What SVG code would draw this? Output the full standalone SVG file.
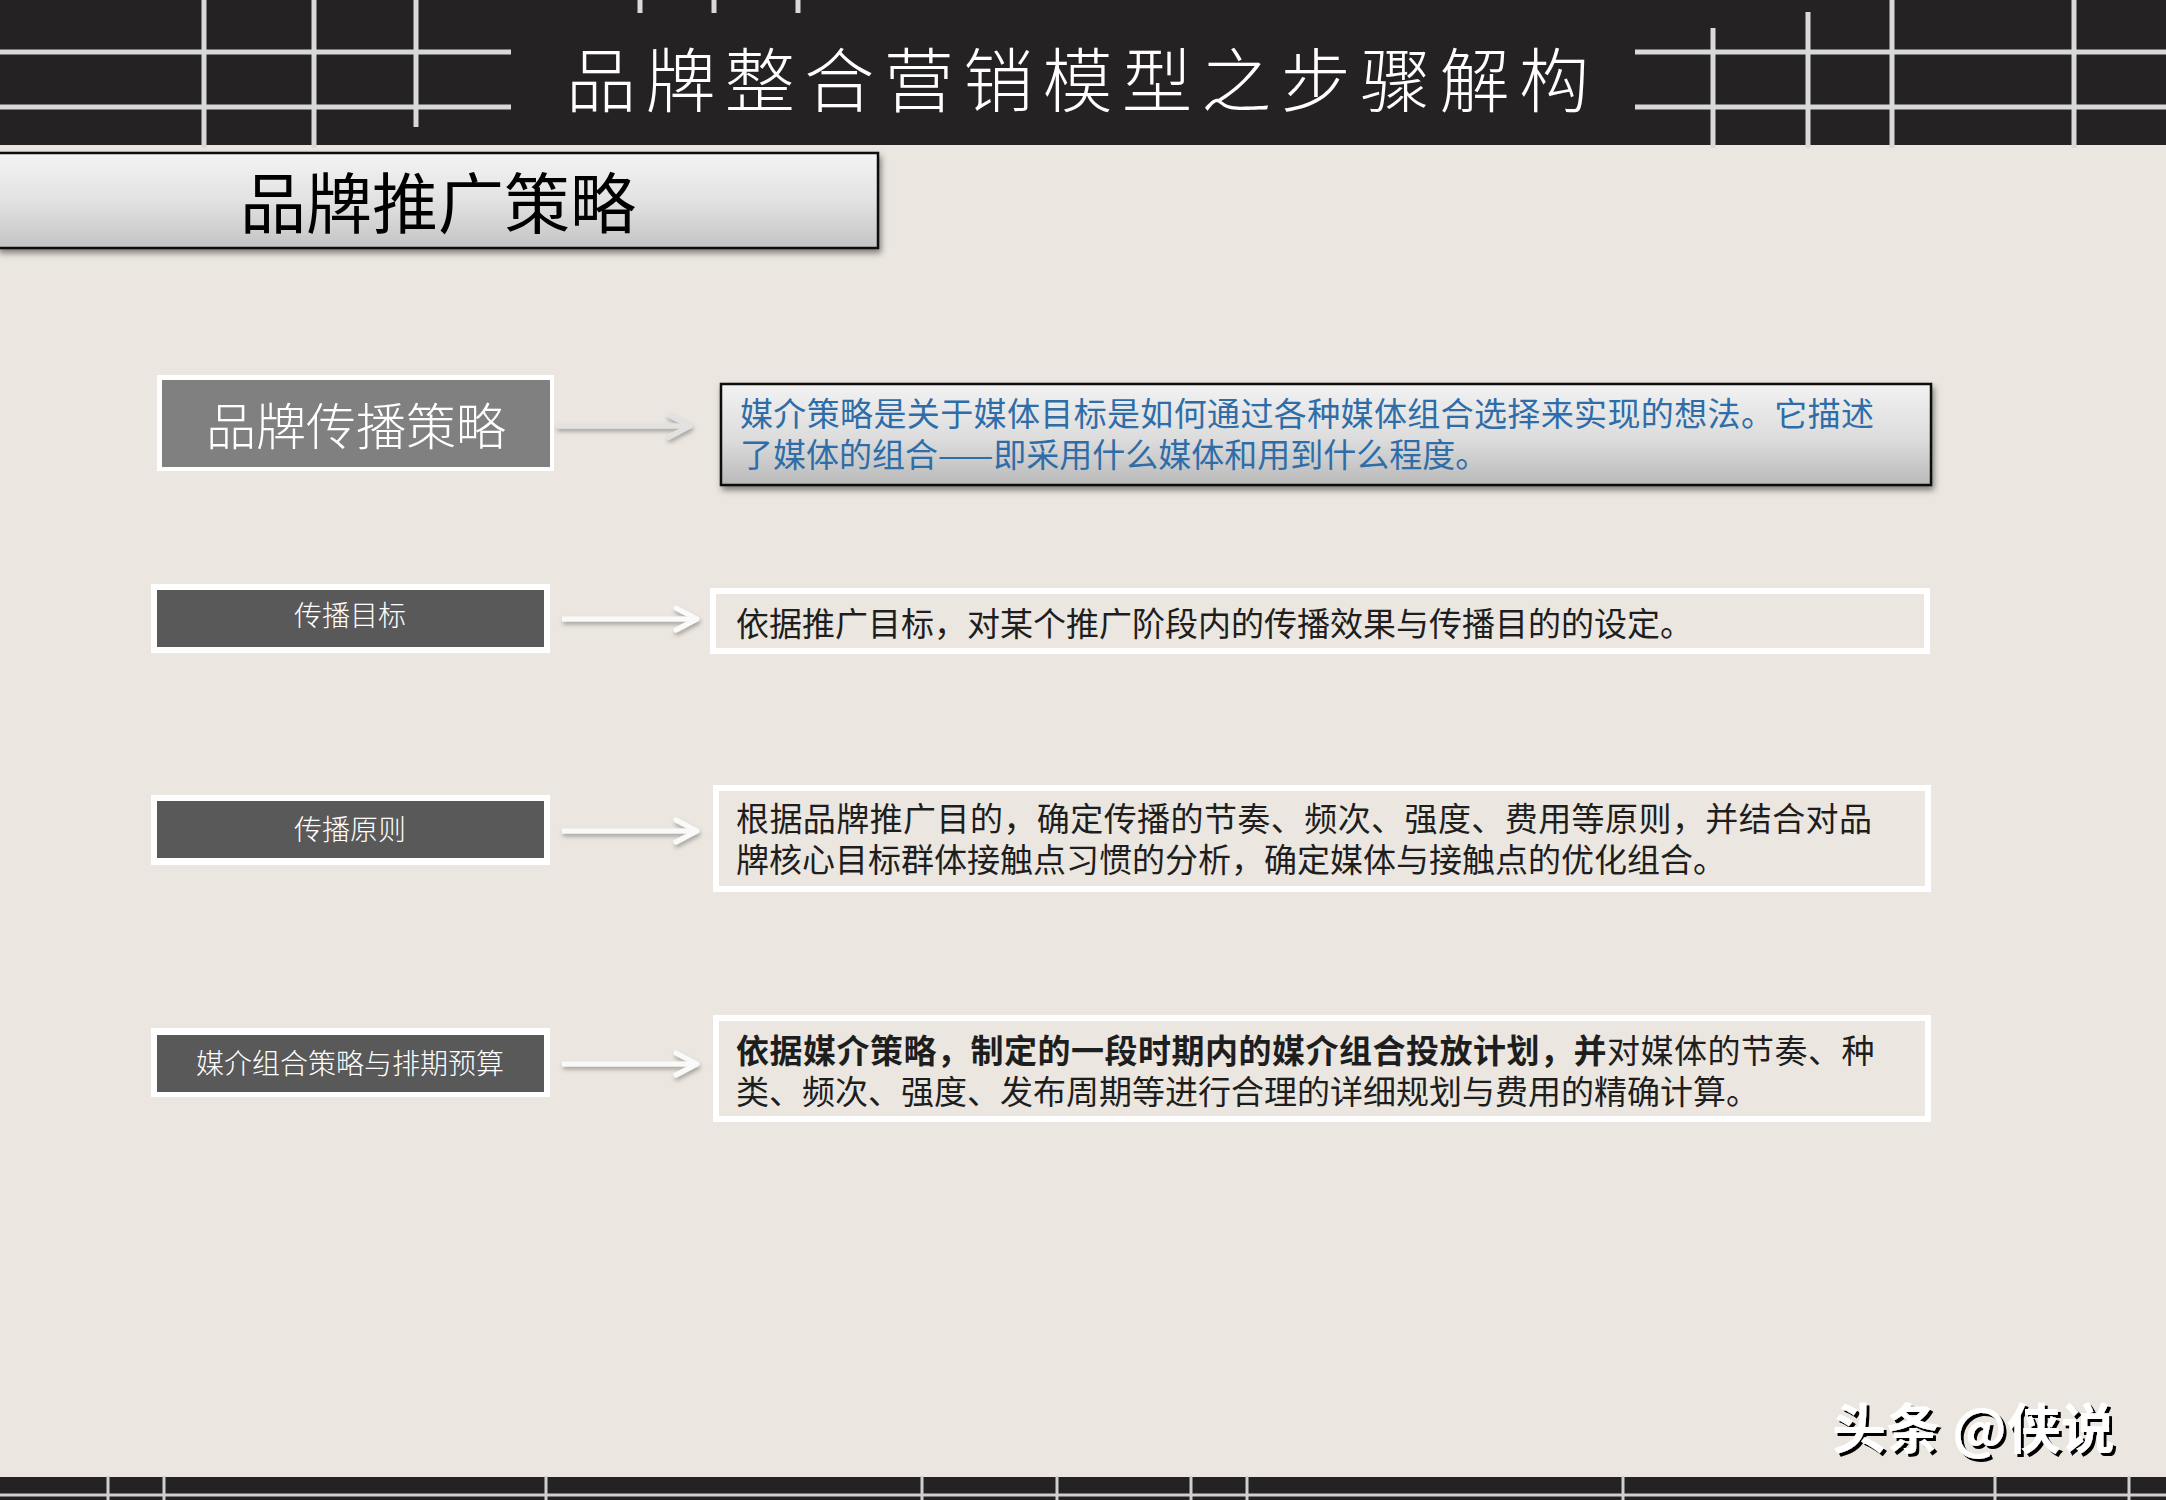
<svg xmlns="http://www.w3.org/2000/svg" width="2166" height="1500" viewBox="0 0 2166 1500">
<defs>
<linearGradient id="gHead" x1="0" y1="0" x2="0" y2="1">
<stop offset="0" stop-color="#f4f4f4"/><stop offset="0.5" stop-color="#e2e2e2"/><stop offset="1" stop-color="#c4c4c4"/>
</linearGradient>
<linearGradient id="gDesc" x1="0" y1="0" x2="0" y2="1">
<stop offset="0" stop-color="#f2f2f2"/><stop offset="0.55" stop-color="#dcdcdc"/><stop offset="1" stop-color="#b9b9b9"/>
</linearGradient>
<filter id="sh" x="-5%" y="-20%" width="110%" height="150%">
<feDropShadow dx="2" dy="4" stdDeviation="3" flood-color="#000" flood-opacity="0.45"/>
</filter>
<filter id="ash" filterUnits="userSpaceOnUse" x="0" y="0" width="2166" height="1500">
<feDropShadow dx="1" dy="3" stdDeviation="2" flood-color="#000" flood-opacity="0.3"/>
</filter>
<filter id="wm" x="-5%" y="-10%" width="115%" height="130%">
<feDropShadow dx="3" dy="3" stdDeviation="0.5" flood-color="#000" flood-opacity="1"/>
</filter>
<marker id="chev" viewBox="0 0 28 28" refX="25" refY="14" markerWidth="28" markerHeight="28" markerUnits="userSpaceOnUse" orient="auto">
<path d="M4,3 L25,14 L4,25" fill="none" stroke="#fafafa" stroke-width="5" stroke-linecap="round" stroke-linejoin="round"/>
</marker>
<marker id="chevGray" viewBox="0 0 28 28" refX="25" refY="14" markerWidth="28" markerHeight="28" markerUnits="userSpaceOnUse" orient="auto">
<path d="M4,3 L25,14 L4,25" fill="none" stroke="#e2e2e2" stroke-width="5" stroke-linecap="round" stroke-linejoin="round"/>
</marker>
</defs>
<style>
.cjk{font-family:"Noto Sans CJK SC","Noto Sans",sans-serif;}
.grid{stroke:#d9d9d9;stroke-width:5;}
.bgrid{stroke:#d0d0d0;stroke-width:3;}
.lbl{fill:#ffffff;font-size:28px;text-anchor:middle;font-weight:300;}
.desc{fill:#1e1e1e;font-size:33px;}
.frame{fill:none;stroke:#ffffff;stroke-width:6;}
.dark{fill:#595959;}
.arrow{stroke:#fafafa;stroke-width:5;fill:none;marker-end:url(#chev);}
</style>
<rect x="0" y="0" width="2166" height="1500" fill="#ebe7e0"/>

<!-- top bar -->
<g id="topbar">
<rect x="0" y="0" width="2166" height="145" fill="#252224"/>
<line class="grid" x1="0" y1="52" x2="511" y2="52"/>
<line class="grid" x1="0" y1="107" x2="511" y2="107"/>
<line class="grid" x1="204" y1="0" x2="204" y2="148"/>
<line class="grid" x1="314" y1="0" x2="314" y2="148"/>
<line class="grid" x1="416" y1="0" x2="416" y2="127"/>
<line class="grid" x1="640" y1="0" x2="640" y2="13"/>
<line class="grid" x1="714" y1="0" x2="714" y2="13"/>
<line class="grid" x1="798" y1="0" x2="798" y2="13"/>
<line class="grid" x1="1635" y1="52" x2="2166" y2="52"/>
<line class="grid" x1="1635" y1="107" x2="2166" y2="107"/>
<line class="grid" x1="1713" y1="28" x2="1713" y2="148"/>
<line class="grid" x1="1808" y1="12" x2="1808" y2="148"/>
<line class="grid" x1="1892" y1="0" x2="1892" y2="148"/>
<line class="grid" x1="2074" y1="0" x2="2074" y2="148"/>
<text class="cjk" x="566" y="107" font-size="70" font-weight="300" fill="#ffffff" textLength="1023" lengthAdjust="spacing">品牌整合营销模型之步骤解构</text>
</g>

<!-- header -->
<g id="header">
<rect x="-2" y="153" width="880" height="95" fill="url(#gHead)" stroke="#111" stroke-width="2.5" filter="url(#sh)"/>
<text class="cjk" x="438" y="228" font-size="66" fill="#000" text-anchor="middle">品牌推广策略</text>
</g>

<!-- row 1 -->
<g id="node-strategy">
<rect x="157" y="375" width="397" height="96" fill="#ffffff"/>
<rect x="162" y="380" width="388" height="87" fill="#808080"/>
<text class="cjk" x="356" y="445" font-size="50" fill="#ffffff" text-anchor="middle" font-weight="300">品牌传播策略</text>
</g>
<g id="desc-strategy">
<rect x="721" y="384" width="1210" height="101" fill="url(#gDesc)" stroke="#111" stroke-width="2.5" filter="url(#sh)"/>
<text class="cjk" font-size="33" fill="#2f6da8"><tspan x="740" y="426" textLength="1134" lengthAdjust="spacing">媒介策略是关于媒体目标是如何通过各种媒体组合选择来实现的想法。它描述</tspan><tspan x="740" y="467">了媒体的组合——即采用什么媒体和用到什么程度。</tspan></text>
</g>

<!-- row 2 -->
<g id="node-goal">
<rect x="151" y="584" width="399" height="69" fill="#ffffff"/>
<rect x="157" y="590" width="387" height="57" class="dark"/>
<text class="cjk lbl" x="350" y="626">传播目标</text>
</g>
<g id="desc-goal">
<rect x="713" y="591" width="1214" height="60" class="frame"/>
<text class="cjk desc" x="736" y="636">依据推广目标，对某个推广阶段内的传播效果与传播目的的设定。</text>
</g>

<!-- row 3 -->
<g id="node-principle">
<rect x="151" y="795" width="399" height="70" fill="#ffffff"/>
<rect x="157" y="801" width="387" height="57" class="dark"/>
<text class="cjk lbl" x="350" y="840">传播原则</text>
</g>
<g id="desc-principle">
<rect x="716" y="788" width="1212" height="101" class="frame"/>
<text class="cjk desc"><tspan x="736" y="831" textLength="1136" lengthAdjust="spacing">根据品牌推广目的，确定传播的节奏、频次、强度、费用等原则，并结合对品</tspan><tspan x="736" y="872">牌核心目标群体接触点习惯的分析，确定媒体与接触点的优化组合。</tspan></text>
</g>

<!-- row 4 -->
<g id="node-media">
<rect x="151" y="1028" width="399" height="69" fill="#ffffff"/>
<rect x="157" y="1035" width="387" height="57" class="dark"/>
<text class="cjk lbl" x="350" y="1074">媒介组合策略与排期预算</text>
</g>
<g id="desc-media">
<rect x="716" y="1018" width="1212" height="101" class="frame"/>
<text class="cjk desc"><tspan x="736" y="1063" font-weight="700" letter-spacing="0.5">依据媒介策略，制定的一段时期内的媒介组合投放计划，并</tspan><tspan letter-spacing="0.5">对媒体的节奏、种</tspan><tspan x="736" y="1104">类、频次、强度、发布周期等进行合理的详细规划与费用的精确计算。</tspan></text>
</g>

<!-- connectors -->
<g id="connectors" filter="url(#ash)">
<line x1="556" y1="426" x2="690" y2="426" style="stroke:#e2e2e2;stroke-width:5;marker-end:url(#chevGray)"/>
<line class="arrow" x1="562" y1="619" x2="697" y2="619"/>
<line class="arrow" x1="562" y1="831" x2="697" y2="831"/>
<line class="arrow" x1="562" y1="1064" x2="697" y2="1064"/>
</g>

<!-- bottom bar -->
<g id="bottombar">
<rect x="0" y="1477" width="2166" height="23" fill="#252224"/>
<line class="bgrid" x1="0" y1="1495" x2="2166" y2="1495"/>
<line class="bgrid" x1="108" y1="1476" x2="108" y2="1500"/>
<line class="bgrid" x1="164" y1="1476" x2="164" y2="1500"/>
<line class="bgrid" x1="546" y1="1476" x2="546" y2="1500"/>
<line class="bgrid" x1="922" y1="1476" x2="922" y2="1500"/>
<line class="bgrid" x1="1057" y1="1476" x2="1057" y2="1500"/>
<line class="bgrid" x1="1191" y1="1476" x2="1191" y2="1500"/>
<line class="bgrid" x1="1247" y1="1476" x2="1247" y2="1500"/>
<line class="bgrid" x1="1623" y1="1476" x2="1623" y2="1500"/>
<line class="bgrid" x1="1995" y1="1476" x2="1995" y2="1500"/>
<line class="bgrid" x1="2129" y1="1476" x2="2129" y2="1500"/>
</g>

<g id="watermark">
<text class="cjk" x="1832" y="1449" font-size="54" font-weight="700" fill="#ffffff" filter="url(#wm)">头条 @侠说</text>
</g>
</svg>
